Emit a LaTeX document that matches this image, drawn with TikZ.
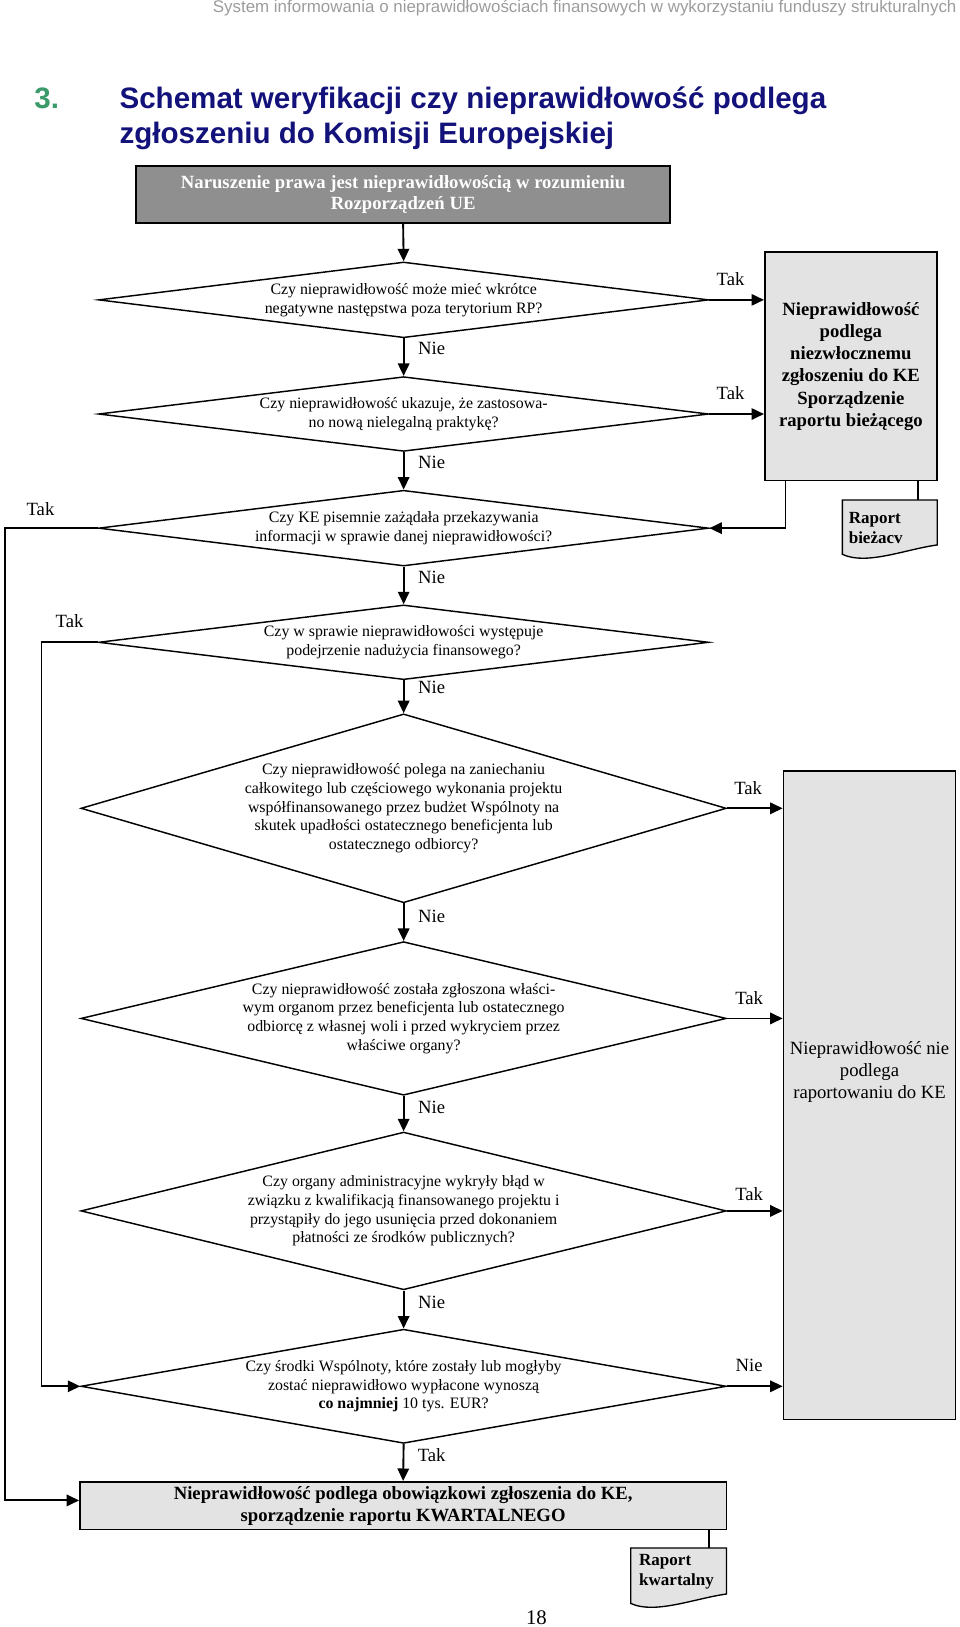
\documentclass[tikz,border=0pt]{standalone}
\usepackage{fontspec}
\setmainfont{Liberation Serif}
\newfontfamily\hsans{Liberation Sans}
\usetikzlibrary{shapes.geometric,arrows.meta,calc}
\definecolor{lgray}{HTML}{E3E3E3}
\definecolor{dgray}{HTML}{8F8F8F}
\definecolor{titleblue}{HTML}{12127A}
\definecolor{titlegreen}{HTML}{3A9A6A}
\definecolor{hdrgray}{HTML}{9C9C9C}
\begin{document}
\begin{tikzpicture}[x=1pt,y=-1pt,
  dia/.style={diamond, draw=black, line width=1.4pt, fill=white, inner sep=0pt},
  qtext/.style={font=\fontsize{15.3}{18}\selectfont, align=center, inner sep=0pt},
  lbl/.style={font=\fontsize{18}{21}\selectfont, inner sep=0pt},
  arr/.style={line width=1.8pt, -{Triangle[length=12pt,width=11pt]}},
  ln/.style={line width=1.8pt},
  graybox/.style={draw=black, line width=1.5pt, fill=lgray, inner sep=0pt, align=center},
  docst/.style={draw=black, line width=1.3pt, fill=lgray},
  doctext/.style={font=\bfseries\fontsize{16.4}{19}\selectfont, align=left, inner sep=0pt},
  hdr/.style={inner sep=0pt}
]
\useasboundingbox (0,0) rectangle (925.16,1568);

% header and title
\node[hdr, anchor=east, font=\hsans\fontsize{16.3}{19}\selectfont, text=hdrgray] (header) at (922,8)
  {System informowania o nieprawidłowościach finansowych w wykorzystaniu funduszy strukturalnych};
\node[hdr, anchor=base west, font=\hsans\bfseries\fontsize{28.5}{33}\selectfont, text=titlegreen] (num) at (33,105) {3.};
\node[hdr, anchor=base west, font=\hsans\bfseries\fontsize{28.5}{33}\selectfont, text=titleblue] (title1) at (115,105)
  {Schemat weryfikacji czy nieprawidłowość podlega};
\node[hdr, anchor=base west, font=\hsans\bfseries\fontsize{28.5}{33}\selectfont, text=titleblue] (title2) at (115,138)
  {zgłoszeniu do Komisji Europejskiej};

% top box
\node[draw=black, line width=1.8pt, fill=dgray, text=white, font=\bfseries\fontsize{18}{21}\selectfont,
  minimum width=515pt, minimum height=55pt, align=center, inner sep=0pt] (top) at (388.5,187.5)
  {Naruszenie prawa jest nieprawidłowością w rozumieniu\\Rozporządzeń UE};

% diamonds
\node[dia, minimum width=588pt, minimum height=73pt] (d1) at (389,289) {};
\node[qtext] (t1) at (d1.center) {Czy nieprawidłowość może mieć wkrótce\\negatywne następstwa poza terytorium RP?};
\node[dia, minimum width=588pt, minimum height=72pt] (d2) at (389,399) {};
\node[qtext] (t2) at (d2.center) {Czy nieprawidłowość ukazuje, że zastosowa-\\no nową nielegalną praktykę?};
\node[dia, minimum width=588pt, minimum height=73pt] (d3) at (389,509) {};
\node[qtext] (t3) at (d3.center) {Czy KE pisemnie zażądała przekazywania\\informacji w sprawie danej nieprawidłowości?};
\node[dia, minimum width=588pt, minimum height=72pt] (d4) at (389,619) {};
\node[qtext] (t4) at (d4.center) {Czy w sprawie nieprawidłowości występuje\\podejrzenie nadużycia finansowego?};
\node[dia, minimum width=622pt, minimum height=182pt] (d5) at (389,779) {};
\node[qtext] (t5) at (d5.center) {Czy nieprawidłowość polega na zaniechaniu\\całkowitego lub częściowego wykonania projektu\\współfinansowanego przez budżet Wspólnoty na\\skutek upadłości ostatecznego beneficjenta lub\\ostatecznego odbiorcy?};
\node[dia, minimum width=622pt, minimum height=148pt] (d6) at (389,981.5) {};
\node[qtext] (t6) at (d6.center) {Czy nieprawidłowość została zgłoszona właści-\\wym organom przez beneficjenta lub ostatecznego\\odbiorcę z własnej woli i przed wykryciem przez\\właściwe organy?};
\node[dia, minimum width=622pt, minimum height=152pt] (d7) at (389,1167) {};
\node[qtext] (t7) at (d7.center) {Czy organy administracyjne wykryły błąd w\\związku z kwalifikacją finansowanego projektu i\\przystąpiły do jego usunięcia przed dokonaniem\\płatności ze środków publicznych?};
\node[dia, minimum width=622pt, minimum height=110pt] (d8) at (389,1336) {};
\node[qtext] (t8) at (d8.center) {Czy środki Wspólnoty, które zostały lub mogłyby\\zostać nieprawidłowo wypłacone wynoszą\\\textbf{co najmniej} 10 tys. EUR?};

% right boxes
\node[graybox, minimum width=166pt, minimum height=220pt, font=\bfseries\fontsize{18}{21.4}\selectfont] (box1) at (820,353)
  {Nieprawidłowość\\podlega\\niezwłocznemu\\zgłoszeniu do KE\\Sporządzenie\\raportu bieżącego};
\node[graybox, minimum width=166pt, minimum height=625pt] (box2) at (838,1055.5) {};
\node[font=\fontsize{18}{21}\selectfont, align=center, inner sep=0pt] (t9) at ($(box2.center)+(0,-22.5)$)
  {Nieprawidłowość nie\\podlega\\raportowaniu do KE};

% bottom box
\node[graybox, minimum width=623pt, minimum height=46pt, font=\bfseries\fontsize{18}{21}\selectfont] (bot) at (388.5,1451)
  {Nieprawidłowość podlega obowiązkowi zgłoszenia do KE,\\sporządzenie raportu KWARTALNEGO};

% document shapes
\node[minimum width=91pt, minimum height=52pt, inner sep=0pt] (rb) at (857.5,508) {};
\draw[docst] (rb.north west) -- (rb.north east) -- ($(rb.south east)+(0,-9)$)
  .. controls ($(rb.south east)+(-30,-5)$) and ($(rb.south west)+(23,11)$) .. (rb.south west) -- cycle;
\node[doctext, anchor=west] (rbt) at ($(rb.west)+(6,1)$) {Raport\\bieżacv};

\node[minimum width=92pt, minimum height=53pt, inner sep=0pt] (rk) at (654,1518.5) {};
\draw[docst] (rk.north west) -- (rk.north east) -- ($(rk.south east)+(0,-9)$)
  .. controls ($(rk.south east)+(-30,-5)$) and ($(rk.south west)+(23,11)$) .. (rk.south west) -- cycle;
\node[doctext, anchor=west] (rkt) at ($(rk.west)+(8,-4)$) {Raport\\kwartalny};

% page number
\node[font=\fontsize{20}{24}\selectfont, inner sep=0pt] (pg) at (517,1559) {18};

% coordinates for side routes
\coordinate (L1a) at (5,509);
\coordinate (L1b) at (5,1446);
\coordinate (L2a) at (40,619);
\coordinate (R1) at (757,0);
\coordinate (R2) at (885,0);
\coordinate (R3) at (683,0);

% connectors
\draw[arr] (top.south) -- (d1.north);
\draw[arr] (d1.south) -- (d2.north);
\draw[arr] (d2.south) -- (d3.north);
\draw[arr] (d3.south) -- (d4.north);
\draw[arr] (d4.south) -- (d5.north);
\draw[arr] (d5.south) -- (d6.north);
\draw[arr] (d6.south) -- (d7.north);
\draw[arr] (d7.south) -- (d8.north);
\draw[arr] (d8.south) -- (bot.north);

\draw[arr] (d1.east) -- (d1.east -| box1.west);
\draw[arr] (d2.east) -- (d2.east -| box1.west);
\draw[arr] (box1.south -| R1) |- (d3.east);
\draw[ln] (box1.south -| R2) -- (rb.north -| R2);

\draw[arr] (d3.west) -- (L1a) -- (L1b) -- (L1b -| bot.west);
\draw[arr] (d4.west) -- (L2a) |- (d8.west);

\draw[arr] (d5.east) -- (d5.east -| box2.west);
\draw[arr] (d6.east) -- (d6.east -| box2.west);
\draw[arr] (d7.east) -- (d7.east -| box2.west);
\draw[arr] (d8.east) -- (d8.east -| box2.west);

\draw[ln] (bot.south -| R3) -- (rk.north -| R3);

% labels
\node[lbl] (n1) at (416,336) {Nie};
\node[lbl] (n2) at (416,446) {Nie};
\node[lbl] (n3) at (416,556) {Nie};
\node[lbl] (n4) at (416,662) {Nie};
\node[lbl] (n5) at (416,883) {Nie};
\node[lbl] (n6) at (416,1067) {Nie};
\node[lbl] (n7) at (416,1255) {Nie};
\node[lbl] (y9) at (416,1402) {Tak};
\node[lbl] (y1) at (704,269) {Tak};
\node[lbl] (y2) at (704,379) {Tak};
\node[lbl] (y3) at (39,491) {Tak};
\node[lbl] (y4) at (67,599) {Tak};
\node[lbl] (y5) at (721,760) {Tak};
\node[lbl] (y6) at (722,962) {Tak};
\node[lbl] (y7) at (722,1151) {Tak};
\node[lbl] (n8) at (722,1316) {Nie};
\end{tikzpicture}
\end{document}
